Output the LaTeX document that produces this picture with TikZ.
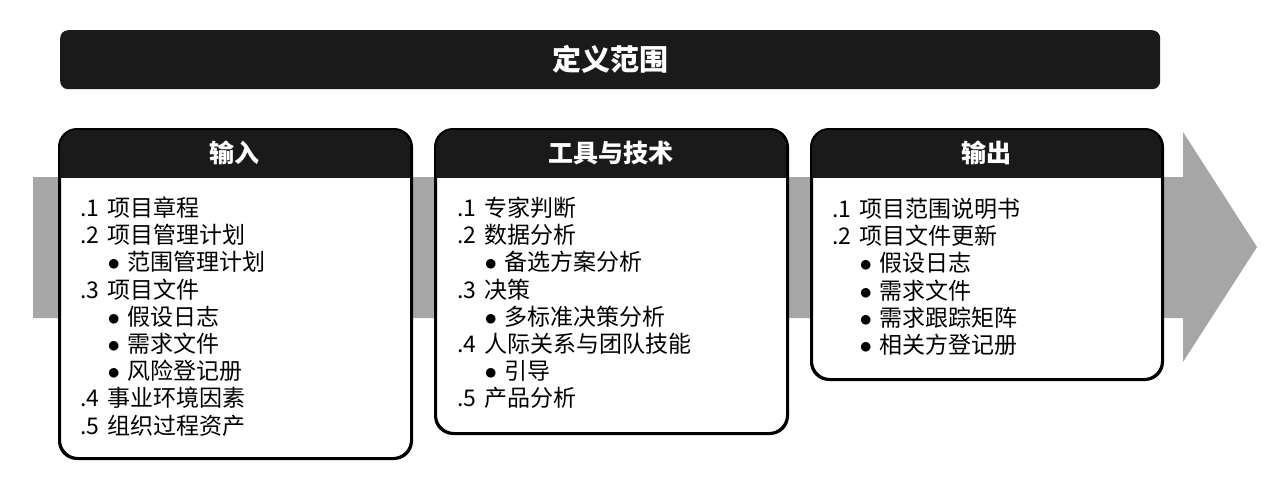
\documentclass[tikz,border=0pt]{standalone}
\usepackage{fontspec}
\setmainfont{Noto Sans CJK SC}
\definecolor{darkhd}{HTML}{1A1A1A}
\definecolor{flowgray}{HTML}{A6A6A6}
\newcommand\numit[2]{\makebox[27pt][l]{#1}#2}
\newcommand\bulit[1]{\hspace*{27.5pt}\makebox[19.5pt][l]{\fontsize{27}{27}\selectfont$\bullet$}#1}
\begin{document}
\begin{tikzpicture}[x=1pt,y=-1pt,
  itm/.style={anchor=base west, inner sep=0pt, font=\fontsize{23}{26}\selectfont},
  hd/.style={text=white, inner sep=0pt, font=\fontsize{25}{30}\selectfont\bfseries},
  panel/.style={draw=black, line width=2pt, fill=white, rounded corners=18pt, anchor=north west, inner sep=0pt}]
\useasboundingbox (0,0) rectangle (1280,493);
% title bar
\node[fill=darkhd, rounded corners=8pt, minimum width=1100pt, minimum height=59pt, anchor=north west, inner sep=0pt] (titlebar) at (60,30) {};
\node[text=white, font=\fontsize{29}{34}\selectfont\bfseries] (title) at (titlebar.center) {定义范围};
% gray flow arrow
\fill[flowgray] (33,177) -- (1183,177) -- (1183,132) -- (1257,247) -- (1183,362) -- (1183,318) -- (33,318) -- cycle;
% panels
\foreach \nm/\x/\w/\h in {inbox/59/351/328, ttbox/435/351/303, outbox/811/350/249}{
  \node[panel, minimum width=\w pt, minimum height=\h pt] (\nm) at (\x,129) {};
  \begin{scope}
    \clip (\x,129) rectangle (\x+\w,177);
    \fill[darkhd, rounded corners=18pt] (\x,129) rectangle (\x+\w,129+\h);
  \end{scope}
  \draw[line width=2pt, rounded corners=18pt] (\nm.north west) rectangle (\nm.south east);
}
\node[hd] (inhd) at (234.5,153) {输入};
\node[hd] (tthd) at (610.5,153) {工具与技术};
\node[hd] (outhd) at (986,153) {输出};
% inputs
\node[itm] (in1) at (80,216.5) {\numit{.1}{项目章程}};
\node[itm] (in2) at (80,243.7) {\numit{.2}{项目管理计划}};
\node[itm] (in3) at (80,270.9) {\bulit{范围管理计划}};
\node[itm] (in4) at (80,298.1) {\numit{.3}{项目文件}};
\node[itm] (in5) at (80,325.3) {\bulit{假设日志}};
\node[itm] (in6) at (80,352.5) {\bulit{需求文件}};
\node[itm] (in7) at (80,379.7) {\bulit{风险登记册}};
\node[itm] (in8) at (80,406.9) {\numit{.4}{事业环境因素}};
\node[itm] (in9) at (80,434.1) {\numit{.5}{组织过程资产}};
% tools
\node[itm] (tt1) at (457,216.5) {\numit{.1}{专家判断}};
\node[itm] (tt2) at (457,243.7) {\numit{.2}{数据分析}};
\node[itm] (tt3) at (457,270.9) {\bulit{备选方案分析}};
\node[itm] (tt4) at (457,298.1) {\numit{.3}{决策}};
\node[itm] (tt5) at (457,325.3) {\bulit{多标准决策分析}};
\node[itm] (tt6) at (457,352.5) {\numit{.4}{人际关系与团队技能}};
\node[itm] (tt7) at (457,379.7) {\bulit{引导}};
\node[itm] (tt8) at (457,406.9) {\numit{.5}{产品分析}};
% outputs
\node[itm] (out1) at (832,217.5) {\numit{.1}{项目范围说明书}};
\node[itm] (out2) at (832,244.7) {\numit{.2}{项目文件更新}};
\node[itm] (out3) at (832,271.9) {\bulit{假设日志}};
\node[itm] (out4) at (832,299.1) {\bulit{需求文件}};
\node[itm] (out5) at (832,326.3) {\bulit{需求跟踪矩阵}};
\node[itm] (out6) at (832,353.5) {\bulit{相关方登记册}};
\end{tikzpicture}
\end{document}
